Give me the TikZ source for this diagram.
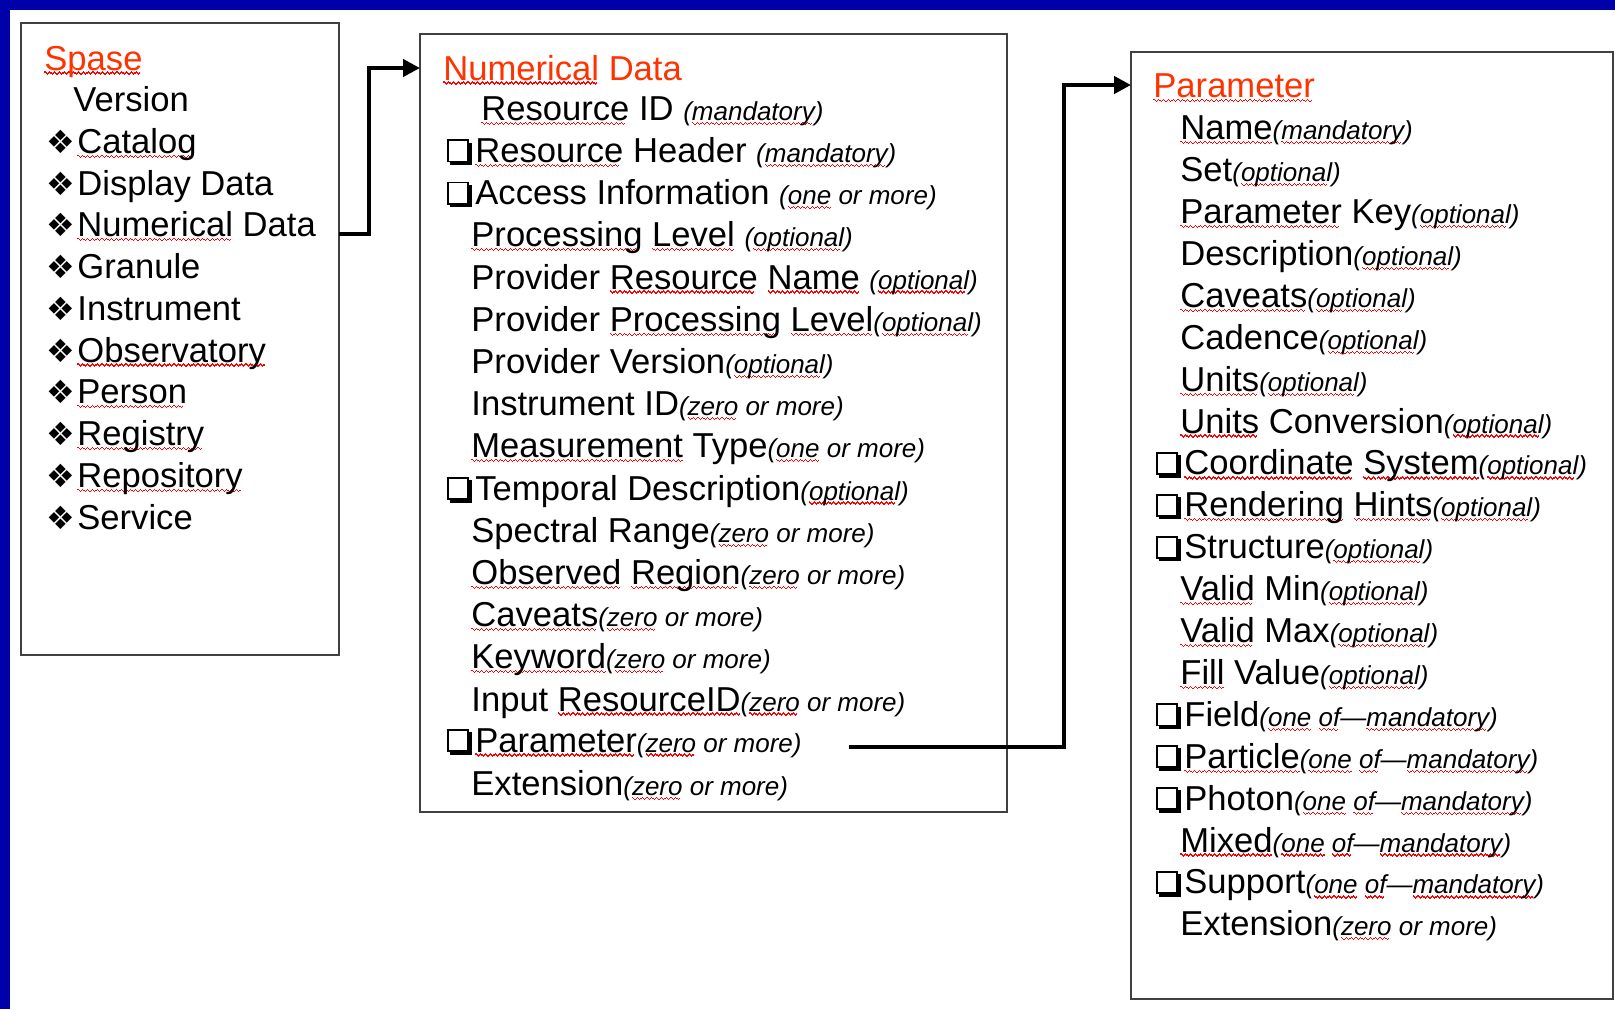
\documentclass[tikz,border=0pt]{standalone}
\usepackage{fontspec}
\setmainfont{Liberation Sans}
\newfontfamily\symfont{DejaVu Sans}
\usetikzlibrary{arrows.meta}

\definecolor{bandblue}{RGB}{0,0,170}
\definecolor{titlered}{RGB}{255,51,0}
\definecolor{squig}{RGB}{255,0,0}

% red wavy spell-check underline, built from tiny steps
\newsavebox\sqbox
\newcommand\wavecell{\rule[-1.3pt]{0.6pt}{0.6pt}\rule[-1.8pt]{0.6pt}{0.6pt}%
  \rule[-2.3pt]{0.6pt}{0.6pt}\rule[-1.8pt]{0.6pt}{0.6pt}}
\newcommand\sq[1]{\sbox\sqbox{#1}%
  \rlap{\color{squig}\hbox to \wd\sqbox{\leaders\hbox{\wavecell}\hfill}}\usebox\sqbox}
% small italic remark after an element name
\newcommand\opt[1]{{\fontsize{13}{15}\selectfont\itshape #1}}
\newcommand\mainsize{\fontsize{17.3}{20}\selectfont}
% list markers: four-dot diamond and shadowed square
\newcommand\dia{\makebox[15.5pt][l]{\symfont\fontsize{16}{18}\selectfont\char"2756}}
\newcommand\chk{\hbox to 15pt{\kern0.8pt
  \rlap{\kern1.3pt\rule[-1.3pt]{11pt}{1.3pt}}%
  \rlap{\kern11pt\rule[-1.3pt]{1.3pt}{11.2pt}}%
  \rlap{\rule{11pt}{0.9pt}}%
  \rlap{\rule[10.6pt]{11pt}{0.9pt}}%
  \rlap{\rule{0.9pt}{11.5pt}}%
  \rlap{\kern10.1pt\rule{0.9pt}{11.5pt}}%
  \hfil}}

\tikzset{
  frame/.style={draw=black!75, line width=1.3pt, fill=white, anchor=north west,
                inner sep=0pt, outer sep=0pt},
  entry/.style={anchor=base west, inner sep=0pt, font=\mainsize},
  heading/.style={entry, text=titlered},
  conn/.style={line width=2.2pt, -{Triangle[length=8.5pt,width=8.5pt]}},
}

\begin{document}
\begin{tikzpicture}[x=0.5pt, y=-0.5pt]
% page background and slide band
\useasboundingbox (0,0) rectangle (1615,1009);
\fill[white] (0,0) rectangle (1615,1009);
\fill[bandblue] (0,0) rectangle (1615,10);
\fill[bandblue] (0,0) rectangle (10,1009);

% the three boxes
\node[frame, minimum width=159pt, minimum height=316pt] (spase) at (21,23) {};
\node[frame, minimum width=293.5pt, minimum height=389pt] (numdata) at (420,34) {};
\node[frame, minimum width=241pt, minimum height=473.5pt] (param) at (1131,52) {};

% Spase
\node[heading] (s0) at (44,70) {\sq{Spase}};
\node[entry] (s1) at (73,111.5) {Version};
\node[entry] (s2) at (46,153.2) {\dia\sq{Catalog}};
\node[entry] (s3) at (46,195) {\dia Display Data};
\node[entry] (s4) at (46,236.7) {\dia\sq{Numerical} Data};
\node[entry] (s5) at (46,278.5) {\dia Granule};
\node[entry] (s6) at (46,320.2) {\dia Instrument};
\node[entry] (s7) at (46,362) {\dia\sq{Observatory}};
\node[entry] (s8) at (46,403.7) {\dia\sq{Person}};
\node[entry] (s9) at (46,445.5) {\dia\sq{Registry}};
\node[entry] (s10) at (46,487.2) {\dia\sq{Repository}};
\node[entry] (s11) at (46,529) {\dia Service};

% Numerical Data
\node[heading] (n0) at (443,80) {\sq{Numerical} Data};
\node[entry] (n1) at (481,120.2) {\sq{Resource} ID \opt{(\sq{mandatory})}};
\node[entry] (n2) at (445,162.4) {\chk\sq{Resource} Header \opt{(\sq{mandatory})}};
\node[entry] (n3) at (445,204.6) {\chk Access Information \opt{(\sq{one} or more)}};
\node[entry] (n4) at (471,246.8) {\sq{Processing} \sq{Level} \opt{(\sq{optional})}};
\node[entry] (n5) at (471,289) {Provider \sq{Resource} \sq{Name} \opt{(\sq{optional})}};
\node[entry] (n6) at (471,331.2) {Provider \sq{Processing} \sq{Level}\opt{(\sq{optional})}};
\node[entry] (n7) at (471,373.4) {Provider Version\opt{(\sq{optional})}};
\node[entry] (n8) at (471,415.6) {Instrument ID\opt{(\sq{zero} or more)}};
\node[entry] (n9) at (471,457.8) {\sq{Measurement} Type\opt{(\sq{one} or more)}};
\node[entry] (n10) at (445,500) {\chk Temporal Description\opt{(\sq{optional})}};
\node[entry] (n11) at (471,542.2) {Spectral Range\opt{(\sq{zero} or more)}};
\node[entry] (n12) at (471,584.4) {\sq{Observed} \sq{Region}\opt{(\sq{zero} or more)}};
\node[entry] (n13) at (471,626.6) {\sq{Caveats}\opt{(\sq{zero} or more)}};
\node[entry] (n14) at (471,668.8) {\sq{Keyword}\opt{(\sq{zero} or more)}};
\node[entry] (n15) at (471,711) {Input \sq{ResourceID}\opt{(\sq{zero} or more)}};
\node[entry] (n16) at (445,752) {\chk\sq{Parameter}\opt{(\sq{zero} or more)}};
\node[entry] (n17) at (471,795.4) {Extension\opt{(\sq{zero} or more)}};

% Parameter
\node[heading] (p0) at (1153,97.5) {\sq{Parameter}};
\node[entry] (p1) at (1180,139.75) {\sq{Name}\opt{(\sq{mandatory})}};
\node[entry] (p2) at (1180,181.65) {Set\opt{(\sq{optional})}};
\node[entry] (p3) at (1180,223.55) {\sq{Parameter} Key\opt{(\sq{optional})}};
\node[entry] (p4) at (1180,265.45) {Description\opt{(\sq{optional})}};
\node[entry] (p5) at (1180,307.35) {\sq{Caveats}\opt{(\sq{optional})}};
\node[entry] (p6) at (1180,349.25) {Cadence\opt{(\sq{optional})}};
\node[entry] (p7) at (1180,391.15) {\sq{Units}\opt{(\sq{optional})}};
\node[entry] (p8) at (1180,433.05) {\sq{Units} Conversion\opt{(\sq{optional})}};
\node[entry] (p9) at (1154,474.95) {\chk\sq{Coordinate} \sq{System}\opt{(\sq{optional})}};
\node[entry] (p10) at (1154,516.85) {\chk\sq{Rendering} \sq{Hints}\opt{(\sq{optional})}};
\node[entry] (p11) at (1154,558.75) {\chk Structure\opt{(\sq{optional})}};
\node[entry] (p12) at (1180,600.65) {\sq{Valid} Min\opt{(\sq{optional})}};
\node[entry] (p13) at (1180,642.55) {\sq{Valid} Max\opt{(\sq{optional})}};
\node[entry] (p14) at (1180,684.45) {\sq{Fill} Value\opt{(\sq{optional})}};
\node[entry] (p15) at (1154,726.35) {\chk Field\opt{(\sq{one} \sq{of}—\sq{mandatory})}};
\node[entry] (p16) at (1154,768.25) {\chk\sq{Particle}\opt{(\sq{one} \sq{of}—\sq{mandatory})}};
\node[entry] (p17) at (1154,810.15) {\chk Photon\opt{(\sq{one} \sq{of}—\sq{mandatory})}};
\node[entry] (p18) at (1180,852.05) {\sq{Mixed}\opt{(\sq{one} \sq{of}—\sq{mandatory})}};
\node[entry] (p19) at (1154,893.95) {\chk Support\opt{(\sq{one} \sq{of}—\sq{mandatory})}};
\node[entry] (p20) at (1180,935.85) {Extension\opt{(\sq{zero} or more)}};

% connectors
\coordinate (a1) at (369,234);
\coordinate (a2) at (369,68);
\draw[conn] (spase.east |- a1) -- (a1) -- (a2) -- (numdata.west |- a2);

\coordinate (b0) at (849,747);
\coordinate (b1) at (1064,747);
\coordinate (b2) at (1064,85);
\draw[conn] (b0) -- (b1) -- (b2) -- (param.west |- b2);
\end{tikzpicture}
\end{document}
